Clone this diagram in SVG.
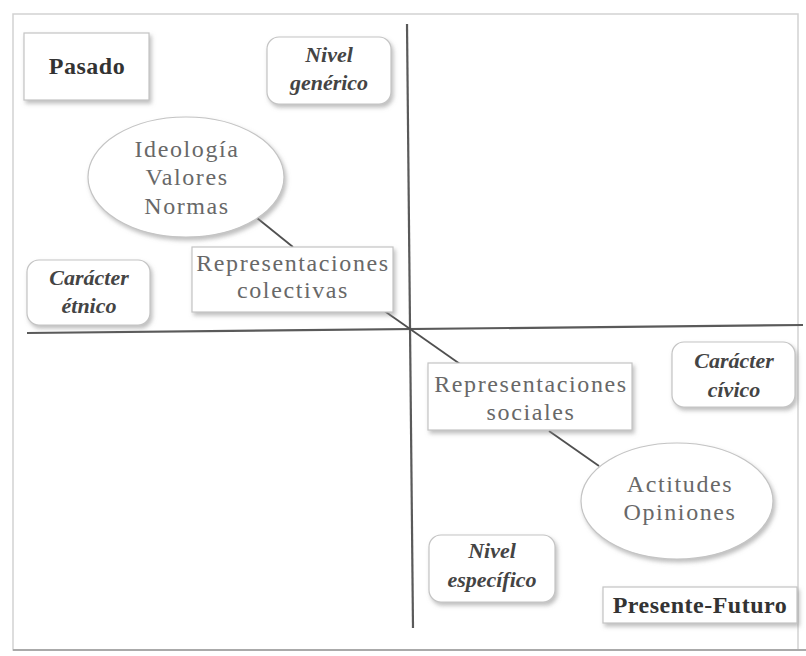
<svg xmlns="http://www.w3.org/2000/svg" width="806" height="656" viewBox="0 0 806 656">
<defs>
<filter id="sh" x="-20%" y="-20%" width="140%" height="150%">
<feDropShadow dx="2" dy="3" stdDeviation="2" flood-color="#888" flood-opacity="0.55"/>
</filter>
<style>
.box{fill:#fff;stroke:#c4c4c4;stroke-width:1.2;filter:url(#sh)}
.axis{stroke:#5a5a5a;stroke-width:2.2;fill:none}
.conn{stroke:#505050;stroke-width:1.8;fill:none}
text{font-family:'Liberation Serif','Times New Roman','DejaVu Serif',serif;text-anchor:middle}
.g{font-size:24px;fill:#686868;letter-spacing:1.6px}
.b{font-size:24px;font-weight:bold;fill:#333;letter-spacing:0.5px}
.i{font-size:22px;font-weight:bold;font-style:italic;fill:#444}
</style>
</defs>
<rect width="806" height="656" fill="#fff"/>
<g id="frame">
<rect x="13" y="14" width="785" height="636" fill="none" stroke="#d2d2d2" stroke-width="1.5"/>
<line x1="13" y1="650" x2="806" y2="650" stroke="#aaa" stroke-width="2"/>
</g>
<g id="connectors">
<line class="axis" x1="407" y1="24" x2="413" y2="628"/>
<line class="axis" x1="27" y1="333" x2="803" y2="325"/>
<line class="conn" x1="257" y1="218" x2="293" y2="247"/>
<line class="conn" x1="383" y1="310" x2="460" y2="364"/>
<line class="conn" x1="549" y1="431" x2="599" y2="466"/>
</g>
<g id="pasado">
<rect class="box" x="24" y="33" width="125" height="67"/>
<text class="b" x="87" y="74">Pasado</text>
</g>
<g id="nivel-generico">
<rect class="box" x="267" y="37" width="124" height="67" rx="12"/>
<text class="i" x="329" y="62">Nivel</text>
<text class="i" x="329" y="90">genérico</text>
</g>
<g id="ideologia">
<ellipse class="box" cx="186" cy="177" rx="98" ry="60"/>
<text class="g" x="187" y="157">Ideología</text>
<text class="g" x="187" y="185">Valores</text>
<text class="g" x="187" y="214">Normas</text>
</g>
<g id="rep-colectivas">
<rect class="box" x="192" y="247" width="201" height="65"/>
<text class="g" x="293" y="271">Representaciones</text>
<text class="g" x="293" y="298">colectivas</text>
</g>
<g id="caracter-etnico">
<rect class="box" x="27" y="260" width="123" height="65" rx="12"/>
<text class="i" x="89" y="285">Carácter</text>
<text class="i" x="89" y="313">étnico</text>
</g>
<g id="rep-sociales">
<rect class="box" x="428" y="363" width="204" height="67"/>
<text class="g" x="531" y="392">Representaciones</text>
<text class="g" x="531" y="420">sociales</text>
</g>
<g id="caracter-civico">
<rect class="box" x="672" y="342" width="123" height="65" rx="12"/>
<text class="i" x="734" y="368">Carácter</text>
<text class="i" x="734" y="397">cívico</text>
</g>
<g id="actitudes">
<ellipse class="box" cx="677" cy="501" rx="96" ry="58"/>
<text class="g" x="680" y="492">Actitudes</text>
<text class="g" x="680" y="520">Opiniones</text>
</g>
<g id="nivel-especifico">
<rect class="box" x="429" y="535" width="126" height="67" rx="12"/>
<text class="i" x="492" y="558">Nivel</text>
<text class="i" x="492" y="587">específico</text>
</g>
<g id="presente-futuro">
<rect class="box" x="603" y="587" width="194" height="36"/>
<text class="b" x="700" y="613">Presente-Futuro</text>
</g>
</svg>
